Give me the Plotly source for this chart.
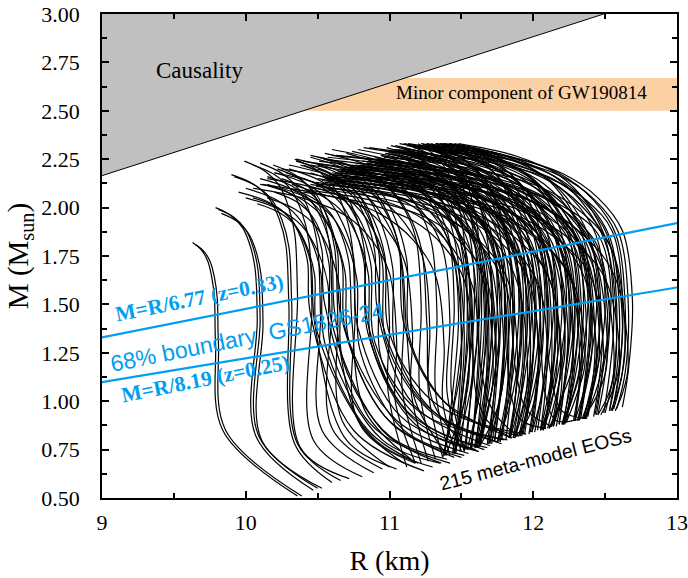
import plotly.graph_objects as go

# ---------------- data ----------------
X_TICKS = [9, 10, 11, 12, 13]
X_MINOR = [9.5, 10.5, 11.5, 12.5]
Y_TICKS = [0.50, 0.75, 1.00, 1.25, 1.50, 1.75, 2.00, 2.25, 2.50, 2.75, 3.00]
Y_MINOR = [0.625, 0.875, 1.125, 1.375, 1.625, 1.875, 2.125, 2.375, 2.625, 2.875]

# causality bound (edge of grey region)
CAUSAL_R = [9.0, 12.49]
CAUSAL_M = [2.165, 3.0]

# minor component of GW190814 (mass band)
GW_BAND_M = [2.50, 2.67]

# compactness boundaries M = R / d
BOUND_R = [9.0, 13.0]
BOUND_DENOM = [6.77, 8.19]

# common shape of the upper arc (max-mass point -> max-radius point)
ARC_FX = [0.0, 0.37, 0.65, 0.83, 0.95, 1.0]
ARC_FY = [0.0, 0.07, 0.18, 0.34, 0.55, 1.0]

# per-curve key points of the meta-model M-R curves
# top = maximum-mass end, bulge = widest point, low = lower knee, end = low-mass end
TOP_R = [
    9.63, 9.65, 9.79, 9.81, 9.83, 9.90, 9.92, 9.99, 10.05, 10.10, 10.19, 10.22, 10.34, 10.30,
    10.05, 10.15, 10.25, 10.40, 10.45, 10.08, 10.20, 10.50, 10.10, 10.30, 10.00, 10.35, 10.20, 10.45,
    10.20, 10.05, 10.35, 10.15, 10.45, 10.25, 10.55, 10.10, 10.40, 10.60, 10.30, 10.50,
    10.45, 10.95, 10.60, 11.20, 10.75, 10.40, 11.05, 10.85, 10.55, 11.30,
    10.48, 10.98, 10.63, 11.23, 10.78, 10.43, 11.08, 10.88, 10.58, 11.33,
    10.51, 11.01, 10.66, 11.26, 10.81, 10.46, 11.11, 10.91, 10.61, 11.36,
    10.54, 11.04, 10.69, 11.29, 10.84, 10.49, 11.14, 10.94, 10.64, 11.39,
    10.57, 11.07, 10.72, 11.32, 10.87, 10.52, 11.17, 10.97, 10.67, 11.42,
    10.60, 11.10, 10.75, 11.35, 10.90, 10.55, 11.20, 11.00, 10.70, 11.45,
    10.63, 11.13, 10.78, 11.38, 10.93, 10.58, 11.23, 11.03, 10.73, 11.48,
    11.25, 11.30, 11.20, 11.32, 11.28, 11.30,
    10.00, 10.12, 10.28, 10.38, 9.95, 10.15,
    10.25, 10.40, 10.15, 10.50, 10.32, 10.55,
    10.70, 10.50, 11.10, 10.65, 10.90, 11.25, 10.45, 10.80, 11.00, 10.60,
    10.74, 10.54, 11.14, 10.69, 10.94, 11.29, 10.49, 10.84, 11.04, 10.64,
    10.78, 10.58, 11.18, 10.73, 10.98, 11.33, 10.53, 10.88, 11.08, 10.68,
    10.82, 10.62, 11.22, 10.77, 11.02, 11.37, 10.57, 10.92, 11.12, 10.72,
    10.86, 10.66, 11.26, 10.81, 11.06, 11.41, 10.61, 10.96, 11.16, 10.76,
]
TOP_M = [
    1.82, 1.81, 2.00, 1.99, 1.97, 2.17, 2.16, 2.24, 2.22, 2.23, 2.22, 2.20, 2.25, 2.10,
    2.05, 2.12, 2.15, 2.22, 2.18, 2.02, 2.08, 2.20, 2.15, 2.20, 2.10, 2.24, 2.18, 2.26,
    2.18, 2.10, 2.25, 2.15, 2.27, 2.20, 2.28, 2.12, 2.24, 2.30, 2.22, 2.26,
    2.22, 2.30, 2.12, 2.33, 2.18, 2.08, 2.27, 2.24, 2.15, 2.32,
    2.23, 2.31, 2.13, 2.33, 2.19, 2.09, 2.28, 2.25, 2.16, 2.32,
    2.24, 2.32, 2.14, 2.33, 2.20, 2.10, 2.29, 2.26, 2.17, 2.33,
    2.25, 2.32, 2.15, 2.33, 2.21, 2.11, 2.30, 2.27, 2.18, 2.33,
    2.26, 2.33, 2.16, 2.33, 2.22, 2.12, 2.31, 2.28, 2.19, 2.33,
    2.27, 2.33, 2.17, 2.33, 2.23, 2.13, 2.32, 2.29, 2.20, 2.33,
    2.27, 2.33, 2.18, 2.33, 2.24, 2.14, 2.32, 2.30, 2.21, 2.33,
    2.30, 2.32, 2.28, 2.33, 2.31, 2.32,
    2.05, 2.12, 2.18, 2.22, 2.08, 2.16,
    2.10, 2.15, 2.05, 2.22, 2.12, 2.25,
    2.28, 2.15, 2.31, 2.20, 2.26, 2.33, 2.12, 2.22, 2.29, 2.18,
    2.29, 2.16, 2.32, 2.21, 2.27, 2.33, 2.13, 2.23, 2.30, 2.19,
    2.30, 2.17, 2.32, 2.22, 2.28, 2.33, 2.14, 2.24, 2.31, 2.20,
    2.31, 2.18, 2.33, 2.23, 2.29, 2.33, 2.15, 2.25, 2.32, 2.21,
    2.31, 2.19, 2.33, 2.24, 2.30, 2.33, 2.16, 2.26, 2.32, 2.22,
]
BULGE_R = [
    9.79, 9.81, 10.08, 10.10, 10.12, 10.30, 10.32, 10.36, 10.46, 10.52, 10.60, 10.64, 10.76, 10.74,
    10.45, 10.55, 10.66, 10.85, 10.92, 10.50, 10.60, 10.95, 10.70, 10.90, 10.55, 11.00, 10.78, 11.10,
    11.00, 11.05, 11.10, 11.16, 11.22, 11.28, 11.33, 11.38, 11.42, 11.45, 11.12, 11.26,
    11.48, 11.50, 11.52, 11.54, 11.56, 11.58, 11.59, 11.61, 11.63, 11.64,
    11.66, 11.68, 11.69, 11.71, 11.72, 11.74, 11.75, 11.77, 11.78, 11.80,
    11.81, 11.83, 11.84, 11.86, 11.87, 11.89, 11.90, 11.92, 11.93, 11.95,
    11.96, 11.98, 11.99, 12.01, 12.02, 12.04, 12.05, 12.07, 12.08, 12.10,
    12.11, 12.13, 12.14, 12.16, 12.17, 12.19, 12.20, 12.22, 12.23, 12.25,
    12.26, 12.28, 12.29, 12.31, 12.32, 12.34, 12.35, 12.37, 12.38, 12.40,
    12.41, 12.43, 12.44, 12.46, 12.47, 12.49, 12.50, 12.52, 12.54, 12.56,
    12.58, 12.60, 12.62, 12.64, 12.66, 12.69,
    10.60, 10.72, 10.85, 10.98, 10.48, 10.62,
    10.80, 10.95, 10.68, 11.05, 10.88, 11.15,
    11.50, 11.52, 11.55, 11.57, 11.60, 11.62, 11.64, 11.67, 11.69, 11.72,
    11.74, 11.76, 11.79, 11.81, 11.84, 11.86, 11.88, 11.91, 11.93, 11.96,
    11.98, 12.00, 12.03, 12.05, 12.08, 12.10, 12.12, 12.15, 12.17, 12.20,
    12.22, 12.24, 12.27, 12.29, 12.32, 12.34, 12.36, 12.39, 12.41, 12.44,
    12.46, 12.48, 12.51, 12.53, 12.56, 12.58, 12.60, 12.62, 12.64, 12.66,
]
BULGE_M = [
    1.30, 1.30, 1.42, 1.42, 1.40, 1.50, 1.50, 1.55, 1.50, 1.45, 1.50, 1.45, 1.45, 1.40,
    1.45, 1.50, 1.45, 1.40, 1.45, 1.35, 1.40, 1.40, 1.35, 1.30, 1.30, 1.35, 1.38, 1.40,
    1.40, 1.30, 1.45, 1.35, 1.50, 1.38, 1.45, 1.28, 1.42, 1.50, 1.35, 1.40,
    1.45, 1.30, 1.55, 1.38, 1.50, 1.25, 1.48, 1.35, 1.58, 1.42,
    1.45, 1.30, 1.55, 1.38, 1.50, 1.25, 1.48, 1.35, 1.58, 1.42,
    1.45, 1.30, 1.55, 1.38, 1.50, 1.25, 1.48, 1.35, 1.58, 1.42,
    1.45, 1.30, 1.55, 1.38, 1.50, 1.25, 1.48, 1.35, 1.58, 1.42,
    1.45, 1.30, 1.55, 1.38, 1.50, 1.25, 1.48, 1.35, 1.58, 1.42,
    1.45, 1.30, 1.55, 1.38, 1.50, 1.25, 1.48, 1.35, 1.58, 1.42,
    1.45, 1.30, 1.55, 1.38, 1.50, 1.25, 1.48, 1.35, 1.58, 1.42,
    1.50, 1.45, 1.55, 1.48, 1.52, 1.52,
    1.25, 1.30, 1.35, 1.30, 1.40, 1.45,
    1.25, 1.20, 1.20, 1.25, 1.28, 1.30,
    1.20, 1.35, 1.10, 1.45, 1.05, 1.30, 1.15, 1.40, 1.25, 1.12,
    1.20, 1.35, 1.10, 1.45, 1.05, 1.30, 1.15, 1.40, 1.25, 1.12,
    1.20, 1.35, 1.10, 1.45, 1.05, 1.30, 1.15, 1.40, 1.25, 1.12,
    1.25, 1.38, 1.18, 1.45, 1.15, 1.32, 1.20, 1.42, 1.28, 1.18,
    1.25, 1.38, 1.18, 1.45, 1.15, 1.32, 1.20, 1.42, 1.28, 1.18,
]
LOW_R = [
    9.84, 9.86, 10.07, 10.09, 10.11, 10.34, 10.36, 10.38, 10.47, 10.53, 10.60, 10.67, 10.77, 10.83,
    10.75, 10.87, 10.97, 11.12, 11.17, 10.90, 10.95, 11.25, 11.05, 11.20, 10.85, 11.30, 11.08, 11.35,
    10.99, 11.04, 11.09, 11.15, 11.21, 11.27, 11.32, 11.37, 11.40, 11.43, 11.18, 11.30,
    11.44, 11.48, 11.46, 11.51, 11.51, 11.56, 11.53, 11.57, 11.56, 11.61,
    11.62, 11.66, 11.63, 11.68, 11.67, 11.72, 11.69, 11.73, 11.71, 11.77,
    11.77, 11.81, 11.78, 11.83, 11.82, 11.87, 11.84, 11.88, 11.86, 11.92,
    11.92, 11.96, 11.93, 11.98, 11.97, 12.02, 11.99, 12.03, 12.01, 12.07,
    12.07, 12.11, 12.08, 12.13, 12.12, 12.17, 12.14, 12.18, 12.16, 12.22,
    12.22, 12.26, 12.23, 12.28, 12.27, 12.32, 12.29, 12.33, 12.31, 12.37,
    12.37, 12.41, 12.38, 12.43, 12.42, 12.47, 12.44, 12.48, 12.47, 12.53,
    12.56, 12.58, 12.60, 12.62, 12.64, 12.66,
    10.95, 11.02, 11.15, 11.28, 10.70, 10.82,
    11.10, 11.25, 11.00, 11.35, 11.18, 11.45,
    11.45, 11.50, 11.49, 11.54, 11.68, 11.60, 11.72, 11.64, 11.65, 11.68,
    11.69, 11.74, 11.73, 11.78, 11.92, 11.84, 11.96, 11.88, 11.89, 11.92,
    11.93, 11.98, 11.97, 12.02, 12.16, 12.08, 12.20, 12.12, 12.13, 12.16,
    12.17, 12.22, 12.21, 12.26, 12.28, 12.32, 12.31, 12.36, 12.37, 12.40,
    12.41, 12.46, 12.45, 12.50, 12.52, 12.56, 12.55, 12.59, 12.60, 12.62,
]
LOW_M = [
    0.85, 0.85, 0.82, 0.82, 0.80, 0.78, 0.78, 0.76, 0.80, 0.85, 0.86, 0.90, 0.92, 0.95,
    0.85, 0.88, 0.92, 0.95, 0.98, 0.80, 0.85, 0.98, 0.90, 0.95, 0.85, 1.00, 0.92, 1.02,
    1.05, 1.00, 1.05, 1.05, 1.05, 1.05, 1.05, 1.00, 1.05, 1.05, 1.00, 1.00,
    1.05, 0.98, 1.05, 1.05, 1.05, 0.98, 1.05, 1.05, 1.05, 1.05,
    1.05, 0.98, 1.05, 1.05, 1.05, 0.98, 1.05, 1.05, 1.05, 1.05,
    1.05, 0.98, 1.05, 1.05, 1.05, 0.98, 1.05, 1.05, 1.05, 1.05,
    1.08, 1.00, 1.08, 1.08, 1.08, 1.00, 1.08, 1.08, 1.08, 1.08,
    1.10, 1.02, 1.10, 1.10, 1.10, 1.02, 1.10, 1.10, 1.10, 1.10,
    1.12, 1.05, 1.12, 1.12, 1.12, 1.05, 1.12, 1.12, 1.12, 1.12,
    1.14, 1.08, 1.14, 1.14, 1.14, 1.08, 1.14, 1.14, 1.14, 1.14,
    1.15, 1.15, 1.15, 1.15, 1.15, 1.15,
    0.80, 0.88, 0.92, 0.95, 0.80, 0.85,
    0.85, 0.88, 0.82, 0.92, 0.88, 0.95,
    0.98, 1.05, 0.92, 1.08, 0.90, 1.02, 0.95, 1.05, 1.00, 0.93,
    0.98, 1.05, 0.92, 1.08, 0.90, 1.02, 0.95, 1.05, 1.00, 0.93,
    0.98, 1.05, 0.92, 1.08, 0.90, 1.02, 0.95, 1.05, 1.00, 0.93,
    1.06, 1.12, 1.04, 1.14, 1.03, 1.10, 1.05, 1.12, 1.08, 1.04,
    1.06, 1.12, 1.04, 1.14, 1.03, 1.10, 1.05, 1.12, 1.08, 1.04,
]
END_R = [
    10.36, 10.39, 10.47, 10.50, 10.53, 10.60, 10.66, 10.72, 10.81, 10.89, 10.95, 11.00, 11.10, 11.15,
    11.24, 11.42, 11.45, 11.66, 11.70, 11.30, 11.36, 11.75, 11.55, 11.80, 11.20, 11.90, 11.60, 11.85,
    11.12, 11.18, 11.22, 11.27, 11.32, 11.37, 11.42, 11.46, 11.50, 11.52, 11.40, 11.55,
    11.38, 11.44, 11.37, 11.46, 11.44, 11.53, 11.45, 11.52, 11.45, 11.57,
    11.56, 11.62, 11.54, 11.63, 11.60, 11.69, 11.61, 11.68, 11.60, 11.73,
    11.71, 11.77, 11.69, 11.78, 11.75, 11.84, 11.76, 11.83, 11.75, 11.88,
    11.86, 11.92, 11.84, 11.93, 11.90, 11.99, 11.91, 11.98, 11.90, 12.03,
    12.01, 12.07, 11.99, 12.08, 12.05, 12.14, 12.06, 12.13, 12.05, 12.18,
    12.16, 12.22, 12.14, 12.23, 12.20, 12.29, 12.21, 12.28, 12.20, 12.33,
    12.31, 12.37, 12.29, 12.38, 12.35, 12.44, 12.36, 12.43, 12.36, 12.49,
    12.50, 12.53, 12.55, 12.56, 12.58, 12.62,
    11.35, 11.50, 11.62, 11.78, 11.05, 11.18,
    11.52, 11.68, 11.40, 11.82, 11.62, 11.95,
    11.38, 11.46, 11.39, 11.49, 11.85, 11.57, 11.89, 11.60, 11.59, 11.63,
    11.62, 11.70, 11.63, 11.73, 12.09, 11.81, 12.13, 11.84, 11.83, 11.87,
    11.86, 11.94, 11.87, 11.97, 12.33, 12.05, 12.37, 12.08, 12.07, 12.11,
    12.10, 12.18, 12.11, 12.21, 12.21, 12.29, 12.23, 12.32, 12.31, 12.35,
    12.34, 12.42, 12.35, 12.45, 12.45, 12.53, 12.47, 12.55, 12.54, 12.57,
]
END_M = [
    0.51, 0.51, 0.54, 0.55, 0.55, 0.58, 0.59, 0.60, 0.61, 0.63, 0.65, 0.66, 0.68, 0.70,
    0.64, 0.68, 0.71, 0.75, 0.77, 0.66, 0.68, 0.79, 0.73, 0.80, 0.68, 0.82, 0.75, 0.81,
    0.66, 0.68, 0.68, 0.69, 0.70, 0.71, 0.72, 0.73, 0.74, 0.74, 0.72, 0.75,
    0.72, 0.73, 0.71, 0.73, 0.73, 0.75, 0.73, 0.74, 0.73, 0.75,
    0.75, 0.76, 0.75, 0.77, 0.76, 0.78, 0.76, 0.78, 0.76, 0.79,
    0.78, 0.79, 0.78, 0.80, 0.79, 0.81, 0.79, 0.81, 0.79, 0.82,
    0.81, 0.82, 0.81, 0.83, 0.82, 0.84, 0.82, 0.84, 0.82, 0.85,
    0.84, 0.85, 0.84, 0.86, 0.85, 0.87, 0.85, 0.87, 0.85, 0.88,
    0.87, 0.88, 0.87, 0.89, 0.88, 0.90, 0.88, 0.90, 0.88, 0.91,
    0.90, 0.91, 0.90, 0.92, 0.91, 0.93, 0.91, 0.93, 0.91, 0.94,
    0.94, 0.95, 0.95, 0.96, 0.96, 0.97,
    0.68, 0.71, 0.74, 0.78, 0.65, 0.68,
    0.72, 0.76, 0.70, 0.80, 0.74, 0.83,
    0.72, 0.73, 0.72, 0.74, 0.81, 0.75, 0.82, 0.76, 0.76, 0.77,
    0.76, 0.78, 0.77, 0.79, 0.86, 0.80, 0.87, 0.81, 0.81, 0.81,
    0.81, 0.83, 0.81, 0.83, 0.91, 0.85, 0.91, 0.86, 0.85, 0.86,
    0.86, 0.88, 0.86, 0.88, 0.88, 0.90, 0.89, 0.90, 0.90, 0.91,
    0.91, 0.92, 0.91, 0.93, 0.93, 0.95, 0.93, 0.95, 0.95, 0.95,
]

# ---------------- styling ----------------
SERIF = "Liberation Serif"
SANS = "Liberation Sans"
BLUE = "rgb(0,158,240)"
GREY = "rgb(192,192,192)"
PEACH = "rgb(251,208,162)"

fig = go.Figure()

# causality (grey) region
fig.add_trace(go.Scatter(
    x=[CAUSAL_R[0], CAUSAL_R[1], CAUSAL_R[0], CAUSAL_R[0]],
    y=[CAUSAL_M[0], CAUSAL_M[1], CAUSAL_M[1], CAUSAL_M[0]],
    mode="none", fill="toself", fillcolor=GREY, hoverinfo="skip", showlegend=False))
fig.add_trace(go.Scatter(x=CAUSAL_R, y=CAUSAL_M, mode="lines",
                         line=dict(color="black", width=1), hoverinfo="skip", showlegend=False))

# M-R curves
for i in range(len(TOP_R)):
    tr, tm, br, bm = TOP_R[i], TOP_M[i], BULGE_R[i], BULGE_M[i]
    xs = [tr + fx * (br - tr) for fx in ARC_FX] + [LOW_R[i], END_R[i]]
    ys = [tm - fy * (tm - bm) for fy in ARC_FY] + [LOW_M[i], END_M[i]]
    fig.add_trace(go.Scatter(x=xs, y=ys, mode="lines",
                             line=dict(color="black", width=1.2, shape="spline", smoothing=1.0),
                             hoverinfo="skip", showlegend=False))

# compactness boundary lines
for d in BOUND_DENOM:
    fig.add_trace(go.Scatter(x=BOUND_R, y=[r / d for r in BOUND_R], mode="lines",
                             line=dict(color=BLUE, width=2.2), hoverinfo="skip", showlegend=False))

# GW190814 band (below traces)
fig.add_shape(type="rect", xref="x", yref="y", x0=X_TICKS[0], x1=X_TICKS[-1],
              y0=GW_BAND_M[0], y1=GW_BAND_M[1], fillcolor=PEACH, line=dict(width=0), layer="below")

ann = [
    dict(x=9.68, y=2.71, text="Causality", font=dict(family=SERIF, size=23, color="black")),
    dict(x=11.92, y=2.597, text="Minor component of GW190814", font=dict(family=SERIF, size=19, color="black")),
    dict(x=9.675, y=1.533, text="<b>M=R/6.77 (z=0.33)</b>", textangle=-11.3,
         font=dict(family=SERIF, size=21.5, color=BLUE)),
    dict(x=10.01, y=1.33, text="68% boundary\u00a0\u00a0GS1826-24", textangle=-11.3,
         font=dict(family=SANS, size=23, color=BLUE)),
    dict(x=9.717, y=1.115, text="<b>M=R/8.19 (z=0.25)</b>", textangle=-11.3,
         font=dict(family=SERIF, size=21.5, color=BLUE)),
    dict(x=12.02, y=0.70, text="215 meta-model EOSs", textangle=-14.5,
         font=dict(family=SANS, size=19.5, color="black")),
]
for a in ann:
    fig.add_annotation(xref="x", yref="y", showarrow=False, **a)

tickfont = dict(family=SERIF, size=22, color="black")
fig.update_xaxes(
    range=[X_TICKS[0], X_TICKS[-1]], tickmode="array", tickvals=X_TICKS,
    ticktext=[str(v) for v in X_TICKS],
    ticks="inside", ticklen=7, tickwidth=1.5, tickcolor="black",
    minor=dict(tickvals=X_MINOR, ticks="inside", ticklen=5, tickwidth=1.5, tickcolor="black"),
    showline=True, linewidth=1.8, linecolor="black", mirror="allticks",
    showgrid=False, zeroline=False, tickfont=tickfont, ticklabelstandoff=4,
    ticklabeloverflow="allow",
    title=dict(text="R (km)", font=dict(family=SERIF, size=28, color="black"), standoff=16),
)
fig.update_yaxes(
    range=[Y_TICKS[0], Y_TICKS[-1]], tickmode="array", tickvals=Y_TICKS,
    ticktext=["%.2f" % v for v in Y_TICKS],
    ticks="inside", ticklen=7, tickwidth=1.5, tickcolor="black",
    minor=dict(tickvals=Y_MINOR, ticks="inside", ticklen=5, tickwidth=1.5, tickcolor="black"),
    showline=True, linewidth=1.8, linecolor="black", mirror="allticks",
    showgrid=False, zeroline=False, tickfont=tickfont, ticklabelstandoff=16,
    ticklabeloverflow="allow",
    title=dict(text="M (M<sub>sun</sub>)", font=dict(family=SERIF, size=29, color="black"), standoff=4),
)
fig.update_layout(
    width=688, height=578,
    margin=dict(l=102, r=11, t=14, b=80, autoexpand=False),
    paper_bgcolor="white", plot_bgcolor="white",
    showlegend=False,
)
fig.write_html("out.html", config={"displayModeBar": False},
               post_script="document.body.style.margin='0px';")
